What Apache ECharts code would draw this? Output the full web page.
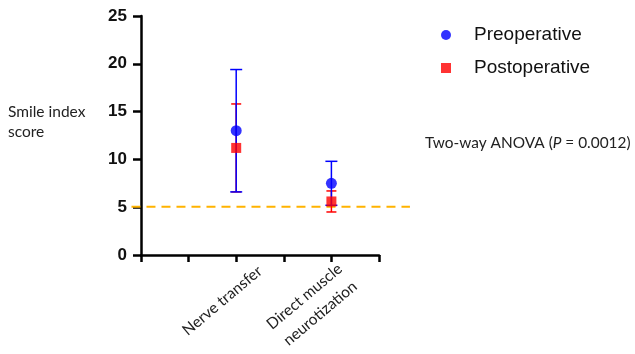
<!DOCTYPE html>
<html>
<head>
<meta charset="utf-8">
<script src="https://cdn.jsdelivr.net/npm/echarts@6/dist/echarts.min.js"></script>
<style>html,body{margin:0;padding:0;background:#fff;}#c{width:635px;height:354px;}</style>
</head>
<body>
<div id="c"></div>
<script>
// ---- data ----
const categories = ['Nerve transfer', 'Direct muscle\nneurotization'];
const categorySlots = [2, 4];            // axis slot of each group (axis runs 0..5)
const seriesNames = ['Preoperative', 'Postoperative'];
const preMean = [13.0, 7.5];
const preSD = [6.4, 2.3];
const postMean = [11.2, 5.6];
const postSD = [4.6, 1.1];
const threshold = 5.05;
const thresholdSpan = [-0.2, 5.65];
const yTicks = [0, 5, 10, 15, 20, 25];
const slotCount = 5;

const chart = echarts.init(document.getElementById('c'));

const labelSlots = Array.from({length: slotCount}, (_, i) => {
  const k = categorySlots.indexOf(i);
  if (k < 0) return '';
  const txt = categories[k];
  // two-line labels: keep the first line where a one-line label would sit
  return txt.indexOf('\n') >= 0 ? {value: txt, textStyle: {padding: [20, 10, 0, 0]}} : txt;
});

function errData(means, sds) {
  return means.map((m, i) => [categorySlots[i], m, sds[i]]);
}
function ptData(means) {
  return means.map((m, i) => [categorySlots[i], m]);
}
function errRender(color, cap, lw) {
  return function (params, api) {
    const x = api.value(0), m = api.value(1), s = api.value(2);
    const top = api.coord([x, m + s]);
    const bot = api.coord([x, m - s]);
    const st = {stroke: color, lineWidth: lw};
    return {
      type: 'group',
      children: [
        {type: 'line', shape: {x1: top[0], y1: top[1], x2: bot[0], y2: bot[1]}, style: st},
        {type: 'line', shape: {x1: top[0] - cap / 2, y1: top[1], x2: top[0] + cap / 2, y2: top[1]}, style: st},
        {type: 'line', shape: {x1: bot[0] - cap / 2, y1: bot[1], x2: bot[0] + cap / 2, y2: bot[1]}, style: st}
      ]
    };
  };
}

const BLUE = '#0000FF', RED = '#FF0000';

chart.setOption({
  animation: false,
  backgroundColor: '#fff',
  grid: {left: 141, right: 256, top: 16, bottom: 99, containLabel: false, outerBoundsMode: 'none'},
  legend: {
    data: seriesNames,
    orient: 'vertical',
    left: 436, top: 20,
    itemWidth: 10, itemHeight: 10,
    itemGap: 13,
    textStyle: {fontSize: 19, fontFamily: 'Liberation Sans, Arial', color: '#111', lineHeight: 20, padding: [0, 0, 0, 18]}
  },
  xAxis: [
    {
      type: 'value', min: 0, max: slotCount, interval: 1,
      axisLine: {show: true, lineStyle: {color: '#000', width: 2.5}},
      axisTick: {show: true, length: 7, lineStyle: {color: '#000', width: 2.5}},
      axisLabel: {show: false},
      splitLine: {show: false}
    },
    {
      type: 'category', data: labelSlots, boundaryGap: true, position: 'bottom',
      axisLine: {show: false}, axisTick: {show: false},
      axisLabel: {
        interval: 0, rotate: 40, margin: 14,
        fontSize: 15.5, fontFamily: 'Lato, Open Sans', color: '#222', lineHeight: 23
      },
      splitLine: {show: false}
    }
  ],
  yAxis: {
    type: 'value', min: yTicks[0], max: yTicks[yTicks.length - 1], interval: yTicks[1] - yTicks[0],
    axisLine: {show: true, lineStyle: {color: '#000', width: 2.5}},
    axisTick: {show: true, length: 8, lineStyle: {color: '#000', width: 2.5}},
    axisLabel: {fontSize: 17, fontWeight: 'bold', fontFamily: 'Liberation Sans, Arial', color: '#111', margin: 14},
    splitLine: {show: false}
  },
  graphic: [
    {type: 'text', left: 8, top: 102, style: {text: 'Smile index\nscore', fontSize: 15.5, fontFamily: 'Lato, Open Sans', fill: '#222', lineHeight: 20}},
    {type: 'text', left: 425, top: 136, style: {
      text: '{n|Two-way ANOVA (}{i|P}{n| = 0.0012)}',
      rich: {
        n: {fontSize: 15.4, fontFamily: 'Lato, Open Sans', fill: '#222'},
        i: {fontSize: 15.4, fontFamily: 'Lato, Open Sans', fontStyle: 'italic', fill: '#222'}
      }
    }}
  ],
  series: [
    {
      type: 'custom', name: 'threshold', data: [[thresholdSpan[0], thresholdSpan[1], threshold]],
      clip: false, silent: true, z: 1, encode: {x: [0, 1], y: 2},
      renderItem: function (params, api) {
        const a = api.coord([api.value(0), api.value(2)]);
        const b = api.coord([api.value(1), api.value(2)]);
        return {type: 'line', shape: {x1: a[0], y1: a[1], x2: b[0], y2: b[1]},
          style: {stroke: '#FFB300', lineWidth: 2, lineDash: [9, 6]}};
      }
    },
    {
      type: 'custom', name: 'postErr', data: errData(postMean, postSD),
      renderItem: errRender(RED, 10, 1.5), z: 2, encode: {x: 0, y: 1}
    },
    {
      type: 'custom', name: 'preErr', data: errData(preMean, preSD),
      renderItem: errRender(BLUE, 12, 1.5), z: 3, encode: {x: 0, y: 1}
    },
    {
      type: 'scatter', name: seriesNames[0], data: ptData(preMean),
      symbol: 'circle', symbolSize: 11, itemStyle: {color: BLUE}, z: 4
    },
    {
      type: 'scatter', name: seriesNames[1], data: ptData(postMean),
      symbol: 'rect', symbolSize: 10, itemStyle: {color: RED}, z: 5
    }
  ]
});
</script>
</body>
</html>
